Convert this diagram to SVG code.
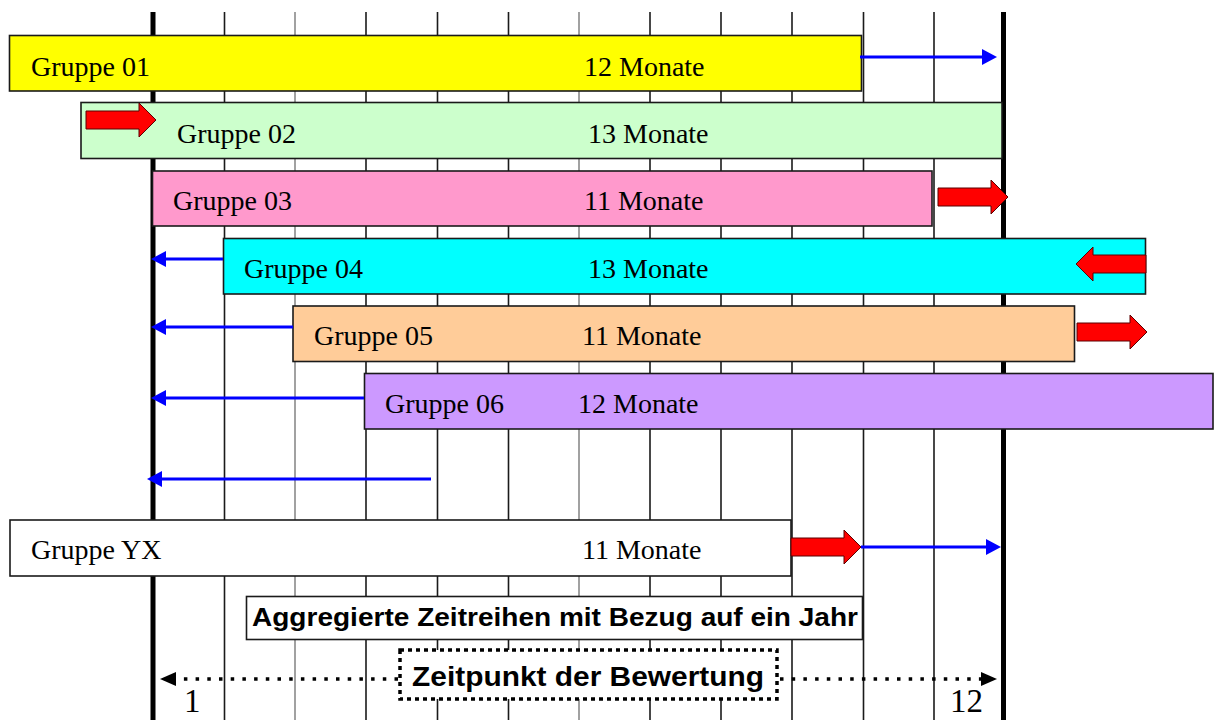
<svg xmlns="http://www.w3.org/2000/svg" width="1214" height="720" viewBox="0 0 1214 720">
  <style>
    .grid { stroke: #1a1a1a; stroke-width: 1.6; }
    .grid.soft { stroke: #8a8a8a; }
    .axis { stroke: #000; stroke-width: 5; }
    .bar { stroke: #1a1a1a; stroke-width: 1.6; }
    .lbl { font-family: "Liberation Serif", "Times New Roman", serif; font-size: 28px; fill: #000; }
    .num { font-family: "Liberation Serif", "Times New Roman", serif; font-size: 33px; fill: #000; }
    .bold { font-family: "Liberation Sans", Arial, sans-serif; font-weight: bold; fill: #000; }
    .blue { stroke: #0000ff; stroke-width: 3; fill: none; }
    .dots { stroke: #000; stroke-width: 3.5; stroke-dasharray: 3.5 8.2; fill: none; }
    .shift { fill: #ff0000; stroke: #5a0000; stroke-width: 1; filter: url(#soft); }
  </style>
  <defs>
    <marker id="blueHead" markerUnits="userSpaceOnUse" markerWidth="15" markerHeight="16" refX="6" refY="8" orient="auto">
      <path d="M0,0 L15,8 L0,16 Z" fill="#0000ff"/>
    </marker>
    <marker id="blackHead" markerUnits="userSpaceOnUse" markerWidth="16" markerHeight="14" refX="2" refY="7" orient="auto">
      <path d="M0,0 L16,7 L0,14 Z" fill="#000"/>
    </marker>
    <filter id="soft" x="-10%" y="-20%" width="120%" height="140%">
      <feGaussianBlur stdDeviation="0.5"/>
    </filter>
    <!-- block arrow pointing right, origin at tail centre -->
    <path id="blockArrow" d="M0,-9 H53 V-17 L70,0 L53,17 V9 H0 Z"/>
  </defs>

  <rect width="1214" height="720" fill="#fff"/>

  <!-- month grid -->
  <g id="grid">
    <line class="grid" x1="224.5" y1="12" x2="224.5" y2="720"/>
    <line class="grid soft" x1="295" y1="12" x2="295" y2="720"/>
    <line class="grid" x1="366" y1="12" x2="366" y2="720"/>
    <line class="grid" x1="437.5" y1="12" x2="437.5" y2="720"/>
    <line class="grid" x1="508.5" y1="12" x2="508.5" y2="720"/>
    <line class="grid soft" x1="579" y1="12" x2="579" y2="720"/>
    <line class="grid" x1="650" y1="12" x2="650" y2="720"/>
    <line class="grid" x1="721" y1="12" x2="721" y2="720"/>
    <line class="grid" x1="792" y1="12" x2="792" y2="720"/>
    <line class="grid" x1="863.5" y1="12" x2="863.5" y2="720"/>
    <line class="grid" x1="934" y1="12" x2="934" y2="720"/>
    <line class="axis" x1="153" y1="12" x2="153" y2="720"/>
    <line class="axis" x1="1003.5" y1="12" x2="1003.5" y2="720"/>
  </g>

  <!-- group bars -->
  <g id="gruppe-01">
    <rect class="bar" x="9.5" y="35.5" width="852" height="55.5" fill="#ffff00"/>
    <text class="lbl" x="31" y="76">Gruppe 01</text>
    <text class="lbl" x="584" y="76">12 Monate</text>
  </g>
  <g id="gruppe-02">
    <rect class="bar" x="81" y="102.5" width="921" height="56" fill="#ccffcc"/>
    <text class="lbl" x="177" y="143">Gruppe 02</text>
    <text class="lbl" x="588" y="143">13 Monate</text>
  </g>
  <g id="gruppe-03">
    <rect class="bar" x="152.5" y="171" width="779.5" height="55" fill="#ff99cc"/>
    <text class="lbl" x="173" y="210">Gruppe 03</text>
    <text class="lbl" x="584" y="210">11 Monate</text>
  </g>
  <g id="gruppe-04">
    <rect class="bar" x="223.5" y="238.5" width="922" height="55.5" fill="#00ffff"/>
    <text class="lbl" x="244" y="278">Gruppe 04</text>
    <text class="lbl" x="588" y="278">13 Monate</text>
  </g>
  <g id="gruppe-05">
    <rect class="bar" x="293" y="306" width="781.5" height="55.5" fill="#ffcc99"/>
    <text class="lbl" x="314" y="345">Gruppe 05</text>
    <text class="lbl" x="582" y="345">11 Monate</text>
  </g>
  <g id="gruppe-06">
    <rect class="bar" x="364.5" y="373.5" width="848.5" height="55.5" fill="#cc99ff"/>
    <text class="lbl" x="385" y="413">Gruppe 06</text>
    <text class="lbl" x="578" y="413">12 Monate</text>
  </g>
  <g id="gruppe-yx">
    <rect class="bar" x="10" y="520" width="781" height="56" fill="#ffffff"/>
    <text class="lbl" x="31" y="559">Gruppe YX</text>
    <text class="lbl" x="582" y="559">11 Monate</text>
  </g>

  <!-- captions -->
  <g id="aggregiert">
    <rect x="246.5" y="596.5" width="616" height="43" fill="#fff" stroke="#1a1a1a" stroke-width="1.6"/>
    <text class="bold" x="252" y="626" font-size="25" textLength="606" lengthAdjust="spacingAndGlyphs">Aggregierte Zeitreihen mit Bezug auf ein Jahr</text>
  </g>
  <g id="bewertung">
    <rect x="400" y="650" width="377" height="49" fill="#fff" stroke="#000" stroke-width="3.5" stroke-dasharray="4 4"/>
    <text class="bold" x="412" y="686" font-size="27" textLength="352" lengthAdjust="spacingAndGlyphs">Zeitpunkt der Bewertung</text>
  </g>

  <!-- year scale -->
  <g id="scale">
    <text class="num" x="184" y="712">1</text>
    <text class="num" x="950" y="712">12</text>
  </g>

  <!-- connectors -->
  <g id="connectors">
    <!-- shifts to the year boundaries -->
    <line class="blue" x1="860" y1="57" x2="988" y2="57" marker-end="url(#blueHead)"/>
    <line class="blue" x1="223" y1="259" x2="160" y2="259" marker-end="url(#blueHead)"/>
    <line class="blue" x1="293" y1="327" x2="160" y2="327" marker-end="url(#blueHead)"/>
    <line class="blue" x1="364" y1="398" x2="160" y2="398" marker-end="url(#blueHead)"/>
    <line class="blue" x1="431" y1="479" x2="156" y2="479" marker-end="url(#blueHead)"/>
    <line class="blue" x1="861" y1="547" x2="992" y2="547" marker-end="url(#blueHead)"/>

    <!-- dotted time axis -->
    <line class="dots" x1="398" y1="679" x2="174" y2="679" marker-end="url(#blackHead)"/>
    <line class="dots" x1="780" y1="679" x2="983" y2="679" marker-end="url(#blackHead)"/>

    <!-- red block arrows -->
    <use href="#blockArrow" class="shift" transform="translate(86,120)"/>
    <use href="#blockArrow" class="shift" transform="translate(938,197)"/>
    <use href="#blockArrow" class="shift" transform="translate(1146,264) scale(-1,1)"/>
    <use href="#blockArrow" class="shift" transform="translate(1077,332)"/>
    <use href="#blockArrow" class="shift" transform="translate(791,547)"/>
  </g>
</svg>
